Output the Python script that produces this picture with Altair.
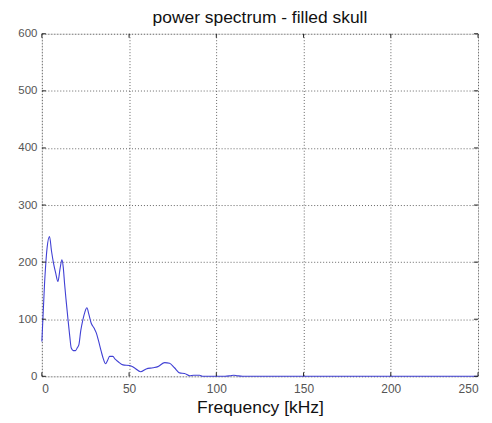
import altair as alt
import pandas as pd

freq = [0, 1.5, 3, 4.4, 5.5, 6.7, 8, 9.2, 10.5, 11.5, 12.3, 13, 14, 15, 16, 16.8, 18, 19.3, 20.3, 21.2,
        22.3, 23.5, 24.7, 25.8, 27, 28.3, 30, 31.2, 32.5, 34, 35.3, 36.5, 37.7, 38.8, 40.7, 42, 43.6,
        46.5, 50.3, 53, 56.6, 59.8, 63.7, 66.5, 70.4, 73.2, 76, 79, 81.8, 84.7, 87, 90.4, 92, 95,
        100, 105, 108, 110, 112, 115, 130, 150, 200, 250]
power = [61, 160, 225, 245, 220, 198, 180, 166, 190, 204, 190, 163, 130, 99, 70, 50, 45, 45, 50, 55,
         80, 99, 113, 120, 108, 93, 84, 76, 62, 44, 30, 22, 28, 35, 35, 30, 26,
         20, 19, 15, 8, 13, 15, 17, 24, 23, 15, 6, 5, 1, 2, 2, 0, 0,
         0, 0, 1, 2, 1, 0, 0, 0, 0, 0]

x_ticks = [0, 50, 100, 150, 200, 250]
y_ticks = [0, 100, 200, 300, 400, 500, 600]

W, H = 438, 344

df = pd.DataFrame({"freq": freq, "power": power})
xt = pd.DataFrame({"v": x_ticks})
yt = pd.DataFrame({"v": y_ticks})

xs = alt.Scale(domain=[0, 250], nice=False, zero=False)
ys = alt.Scale(domain=[0, 600], nice=False)

line = alt.Chart(df).mark_line(color="#4040d4", strokeWidth=1.1, interpolate="monotone").encode(
    x=alt.X("freq:Q", scale=xs,
            axis=alt.Axis(values=x_ticks, title="Frequency [kHz]", grid=True,
                          gridDash=[1, 2], gridColor="#555555", gridOpacity=0.9,
                          ticks=False, domain=False, labelPadding=7,
                          labelColor="#555555", labelFontSize=12, labelFont="Liberation Sans",
                          titleFont="Liberation Sans", titleFontSize=17.5, titleFontWeight="normal",
                          titleColor="#111111", titlePadding=4)),
    y=alt.Y("power:Q", scale=ys,
            axis=alt.Axis(values=y_ticks, title=None, grid=True,
                          gridDash=[1, 2], gridColor="#555555", gridOpacity=0.9,
                          ticks=False, domain=False, labelPadding=5,
                          labelColor="#555555", labelFontSize=11.5, labelFont="Liberation Sans")),
)

tick_style = dict(color="#222222", strokeWidth=1)
xb = alt.Chart(xt).mark_rule(**tick_style).encode(x=alt.X("v:Q", scale=xs), y=alt.value(H), y2=alt.value(H - 4))
xtop = alt.Chart(xt).mark_rule(**tick_style).encode(x=alt.X("v:Q", scale=xs), y=alt.value(0), y2=alt.value(4))
yl = alt.Chart(yt).mark_rule(**tick_style).encode(y=alt.Y("v:Q", scale=ys), x=alt.value(0), x2=alt.value(4))
yr = alt.Chart(yt).mark_rule(**tick_style).encode(y=alt.Y("v:Q", scale=ys), x=alt.value(W), x2=alt.value(W - 4))

chart = alt.layer(line, xb, xtop, yl, yr).properties(
    width=W, height=H,
    title=alt.TitleParams("power spectrum - filled skull", font="Liberation Sans", fontSize=17.5,
                          fontWeight="normal", color="#111111", offset=1),
    autosize=alt.AutoSizeParams(type="none"),
    padding={"left": 34, "top": 25, "right": 6, "bottom": 44},
).configure_view(stroke="#111111", strokeWidth=1.2).configure(background="white")

chart.save("out.html", embed_options={"renderer": "svg", "actions": False})
